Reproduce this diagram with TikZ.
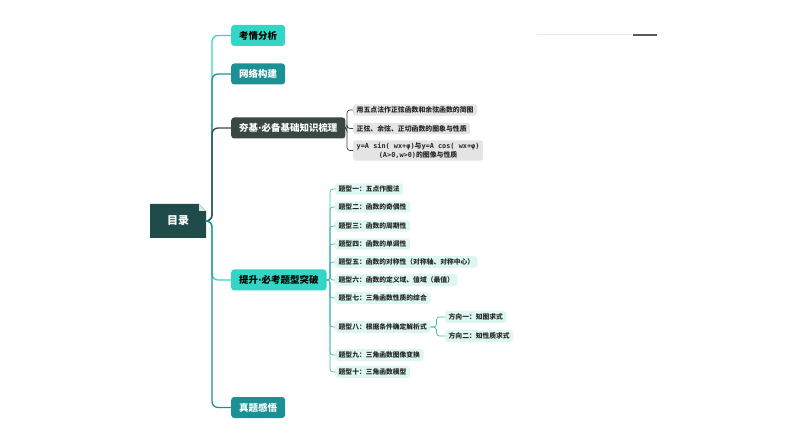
\documentclass[tikz,border=0pt]{standalone}
\usepackage{fontspec}
\setmainfont{Noto Sans CJK SC}
\newfontfamily\latinfont{DejaVu Sans Mono}
\newfontfamily\dotfont{DejaVu Sans}
\usetikzlibrary{positioning}
\definecolor{rootfill}{HTML}{1F4B4A}
\definecolor{rootfold}{HTML}{DCE6E5}
\definecolor{tealA}{HTML}{33D6C4}
\definecolor{tealB}{HTML}{1B9196}
\definecolor{slate}{HTML}{3A4845}
\definecolor{greybox}{HTML}{E4E4E4}
\definecolor{cyanbox}{HTML}{DDF6F2}
\definecolor{cyanline}{HTML}{3FB9AC}
\newcommand{\middot}{{\dotfont\bfseries·}}
\tikzset{
  % first level topic boxes
  topic/.style={rounded corners=3bp, minimum height=21bp, inner xsep=8bp,
    inner ysep=0pt, anchor=west, font=\fontsize{9.5}{10}\selectfont\bfseries},
  % grey boxes of the basic knowledge
  greytopic/.style={fill=greybox, rounded corners=2.5bp, inner xsep=3.5bp,
    inner ysep=2.3bp, anchor=west, align=center,
    font=\fontsize{6.9}{9}\selectfont\bfseries, text=black!85},
  % light cyan boxes of the problem types
  cyantopic/.style={fill=cyanbox, rounded corners=2.5bp, inner xsep=3.5bp,
    inner ysep=2.5bp, anchor=west, font=\fontsize{6.8}{8}\selectfont\bfseries,
    text=black!85},
  % thick line from the root to a topic
  branch/.style={line width=1.3bp, rounded corners=6bp},
  % thin line from a topic to its children
  twig/.style={line width=0.7bp, rounded corners=3bp},
}

\begin{document}
\begin{tikzpicture}[x=1bp,y=-1bp]
\useasboundingbox (0,0) rectangle (794,447);
% root with folded corner
\fill[rootfill] (150,204)--(199,204)--(206,211)--(206,238)--(150,238)--cycle;
\fill[rootfold] (199,204)--(199,211)--(206,211)--cycle;
\node[minimum width=56bp, minimum height=34bp, text=white,
  font=\fontsize{11}{12}\selectfont\bfseries] (root) at (178,221) {目录};
\coordinate (spine) at (212,221);

\node[topic, fill=tealA, text=black] (k1) at (231,35.5) {考情分析};
\node[topic, fill=tealB, text=white] (k2) at (231,74) {网络构建};
\node[topic, fill=slate, text=white] (k3) at (231,128) {夯基\middot 必备基础知识梳理};
\node[topic, fill=tealA, text=black] (k4) at (231,280) {提升\middot 必考题型突破};
\node[topic, fill=tealB, text=white] (k5) at (231,407.5) {真题感悟};

\draw[branch, tealA] (root.east) -- (spine) |- (k1.west);
\draw[branch, tealB] (root.east) -- (spine) |- (k2.west);
\draw[branch, slate] (root.east) -- (spine) |- (k3.west);
\draw[branch, tealA] (root.east) -- (spine) |- (k4.west);
\draw[branch, tealB] (root.east) -- (spine) |- (k5.west);

% basic knowledge
\node[greytopic] (g1) at (353,110) {用五点法作正弦函数和余弦函数的简图};
\node[greytopic] (g2) at (353,128.5) {正弦、余弦、正切函数的图象与性质};
\node[greytopic] (g3) at (353,150.5) {{\latinfont y=A sin( wx+φ)}与{\latinfont y=A cos( wx+φ)}\\{\latinfont (A>0,w>0)}的图像与性质};
\coordinate (b3) at (347,128);
\draw[twig, slate] (k3.east) -- (b3) |- (g1.west);
\draw[twig, slate] (k3.east) -- (b3) |- (g2.west);
\draw[twig, slate] (k3.east) -- (b3) |- (g3.west);

% problem types
\node[cyantopic] (t1) at (335,189) {题型一：五点作图法};
\node[cyantopic] (t2) at (335,207) {题型二：函数的奇偶性};
\node[cyantopic] (t3) at (335,226) {题型三：函数的周期性};
\node[cyantopic] (t4) at (335,244) {题型四：函数的单调性};
\node[cyantopic] (t5) at (335,262) {题型五：函数的对称性（对称轴、对称中心）};
\node[cyantopic] (t6) at (335,280) {题型六：函数的定义域、值域（最值）};
\node[cyantopic] (t7) at (335,298) {题型七：三角函数性质的综合};
\node[cyantopic] (t8) at (335,327) {题型八：根据条件确定解析式};
\node[cyantopic] (t9) at (335,355) {题型九：三角函数图像变换};
\node[cyantopic] (t10) at (335,372) {题型十：三角函数模型};
\coordinate (b4) at (330,280);
\draw[twig, cyanline] (k4.east) -- (b4) |- (t1.west);
\draw[twig, cyanline] (k4.east) -- (b4) |- (t2.west);
\draw[twig, cyanline] (k4.east) -- (b4) |- (t3.west);
\draw[twig, cyanline] (k4.east) -- (b4) |- (t4.west);
\draw[twig, cyanline] (k4.east) -- (b4) |- (t5.west);
\draw[twig, cyanline] (k4.east) -- (b4) |- (t6.west);
\draw[twig, cyanline] (k4.east) -- (b4) |- (t7.west);
\draw[twig, cyanline] (k4.east) -- (b4) |- (t8.west);
\draw[twig, cyanline] (k4.east) -- (b4) |- (t9.west);
\draw[twig, cyanline] (k4.east) -- (b4) |- (t10.west);

% directions of problem type eight
\node[cyantopic] (d1) at (445,317) {方向一：知图求式};
\node[cyantopic] (d2) at (445,336) {方向二：知性质求式};
\coordinate[right=6bp of t8] (b8);
\draw[twig, cyanline] (t8.east) -- (b8) |- (d1.west);
\draw[twig, cyanline] (t8.east) -- (b8) |- (d2.west);

% scroll bar at the top
\draw[line width=1bp, black!8] (537,35) -- (657,35);
\draw[line width=2bp, black!65] (633,35) -- (657,35);
\end{tikzpicture}
\end{document}
